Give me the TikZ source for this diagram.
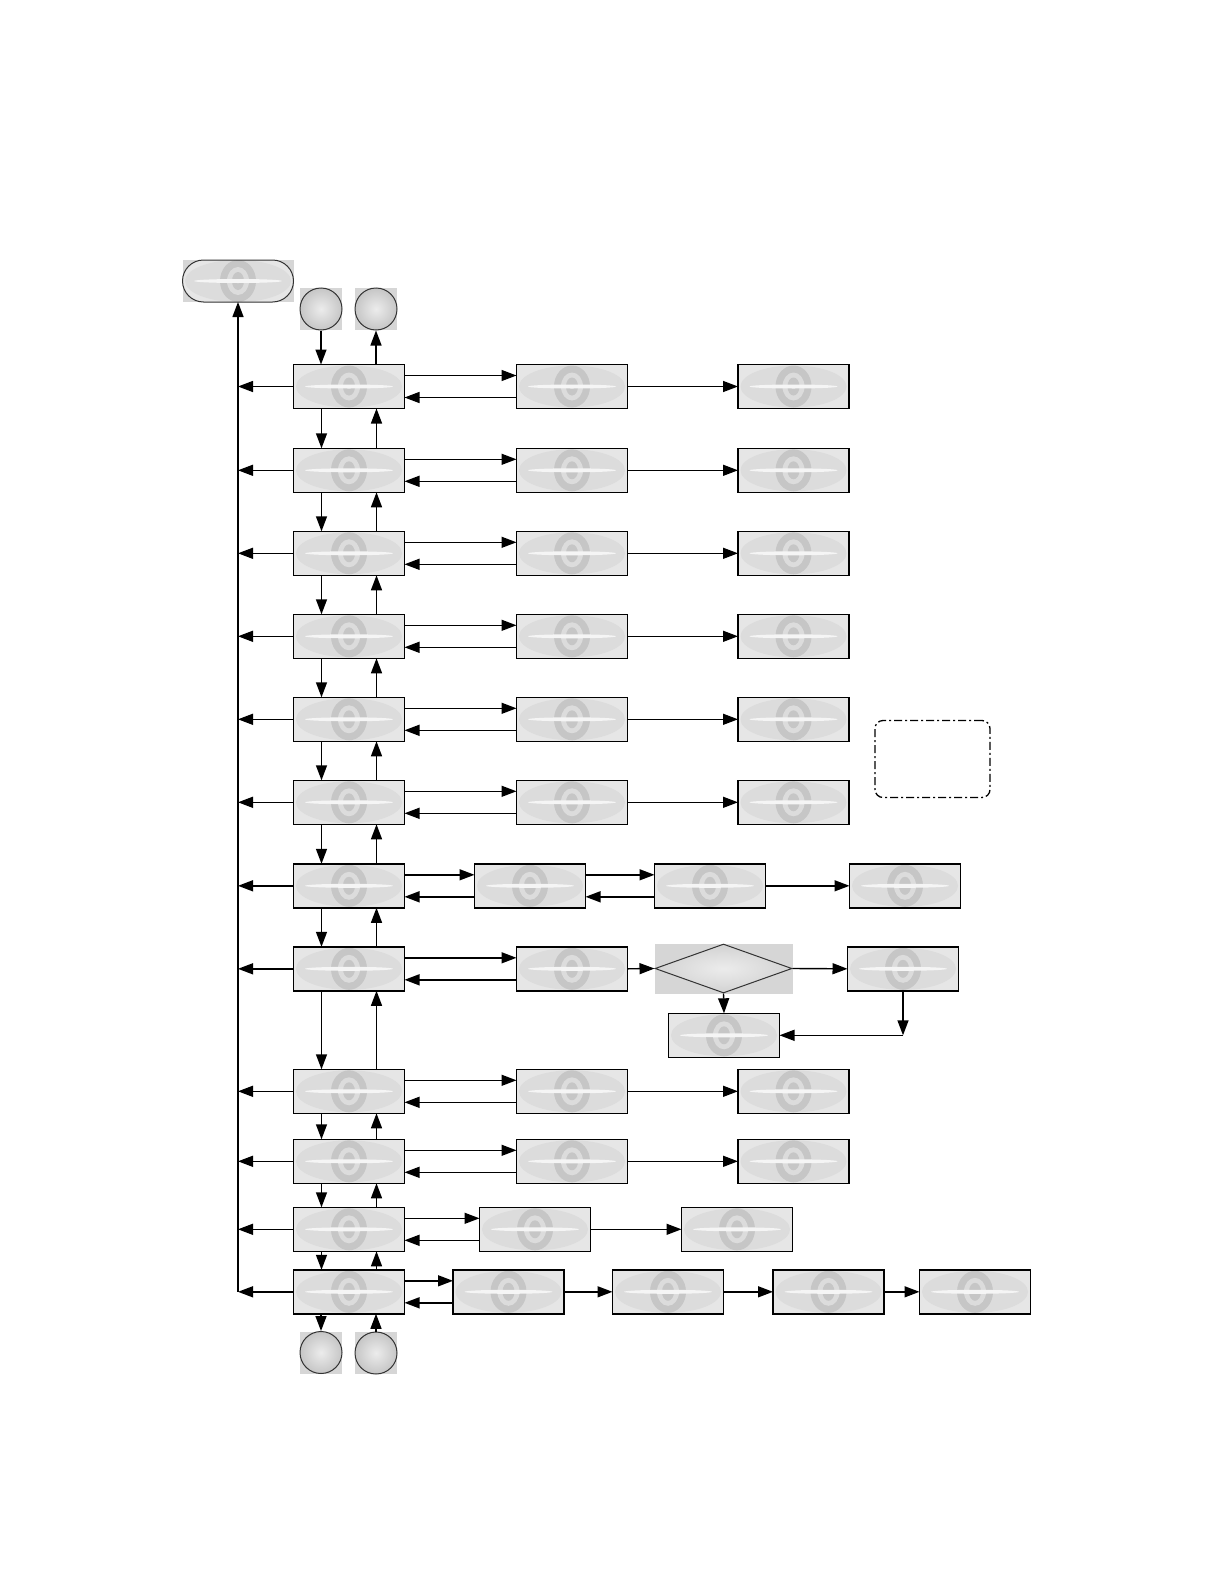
\documentclass[tikz,border=0pt]{standalone}
\usetikzlibrary{shapes.geometric,arrows.meta,backgrounds,calc}
\definecolor{boxbg}{HTML}{E6E6E6}
\definecolor{patt}{HTML}{DCDCDC}
\definecolor{pattd}{HTML}{C6C6C6}
\definecolor{sqbg}{HTML}{D6D6D6}
\begin{document}
\begin{tikzpicture}[x=0.5pt,y=-0.5pt,
  pat/.style={path picture={
      \fill[patt] (path picture bounding box.center) ellipse [x radius=26.5pt, y radius=10.5pt];
      \fill[pattd] (path picture bounding box.center) ellipse [x radius=9pt, y radius=10.5pt];
      \fill[patt] (path picture bounding box.center) ellipse [x radius=5.5pt, y radius=7pt];
      \fill[pattd] (path picture bounding box.center) ellipse [x radius=3pt, y radius=4.5pt];
      \fill[white!70!patt] (path picture bounding box.center) ellipse [x radius=22pt, y radius=1pt];}},
  box/.style={draw=black, line width=0.7pt, fill=boxbg, minimum width=55.5pt,
    minimum height=22pt, inner sep=0pt, outer sep=0pt, pat},
  term/.style={draw=black!80, line width=0.5pt, fill=boxbg, rounded corners=10.5pt,
    minimum width=55.5pt, minimum height=21pt, inner sep=0pt, outer sep=0pt, pat},
  circ/.style={circle, draw=black!80, line width=0.5pt, minimum size=21pt, inner sep=0pt,
    inner color=gray!15, outer color=gray!45},
  dia/.style={diamond, draw=black!80, line width=0.5pt, minimum width=68.5pt,
    minimum height=24.5pt, inner sep=0pt, inner color=gray!15, outer color=gray!35},
  notebox/.style={draw=black, line width=0.65pt, dash pattern=on 4pt off 1.5pt on 1pt off 1.5pt,
    rounded corners=4pt, minimum width=57.5pt, minimum height=38.5pt, inner sep=0pt},
  arr/.style={-{Triangle[length=7.5pt,width=5.5pt]}, line width=0.7pt}
]
\useasboundingbox (0,0) rectangle (1224,1584);

% helper x positions
\coordinate (vx) at (238,0);
\coordinate (dx) at (321.5,0);
\coordinate (ux) at (376.5,0);

% terminal and connectors
\node[term] (t) at (238,281) {};
\node[circ] (ci1) at (321,309) {};
\node[circ] (ci2) at (376,309) {};
\node[circ] (ci3) at (321,1352.5) {};
\node[circ] (ci4) at (376,1353) {};

% main column
\foreach \i/\y in {1/386.5,2/470.3,3/553.3,4/636.3,5/719.3,6/802.3,7/885.8,8/968.8,9/1091.3,10/1161.3,11/1229.3,12/1291.8}
  \node[box] (m\i) at (349,\y) {};

% second and third columns
\foreach \i/\y in {1/386.5,2/470.3,3/553.3,4/636.3,5/719.3,6/802.3,9/1091.3,10/1161.3}{
  \node[box] (b\i) at (572,\y) {};
  \node[box] (c\i) at (793.5,\y) {};
}
\node[box] (b7) at (530,885.8) {};
\node[box] (c7) at (710,885.8) {};
\node[box] (d7) at (905,885.8) {};

\node[box] (b8) at (572,968.8) {};
\node[dia] (dd) at (723.5,968.5) {};
\node[box] (r8) at (903,968.8) {};
\node[box] (l8) at (724,1035.3) {};
\coordinate (k8) at (903,1035.3);

\node[box] (b11) at (535,1229.3) {};
\node[box] (c11) at (737,1229.3) {};

\node[box] (b12) at (508.5,1291.8) {};
\node[box] (c12) at (668,1291.8) {};
\node[box] (d12) at (828.5,1291.8) {};
\node[box] (e12) at (975,1291.8) {};

\node[notebox] (note) at (932.5,759) {};

% backgrounds of the picture-like shapes
\begin{scope}[on background layer]
  \fill[sqbg] (t.north west) rectangle (t.south east);
  \foreach \c in {ci1,ci2,ci3,ci4}
    \fill[sqbg] ([xshift=-10.5pt,yshift=10.5pt]\c.center) rectangle ([xshift=10.5pt,yshift=-10.5pt]\c.center);
  \fill[sqbg] (dd.west |- dd.north) rectangle (dd.east |- dd.south);
\end{scope}

% left bus
\foreach \i in {1,...,12}
  \draw[arr] (m\i.west) -- (m\i.west -| vx);
\draw[arr] (m12.west -| vx) -- (t.south);

% vertical arrows of main column
\draw[arr] (ci1.south) -- (m1.north -| ci1);
\draw[arr] (m1.north -| ci2) -- (ci2.south);
\foreach \i/\j in {1/2,2/3,3/4,4/5,5/6,6/7,7/8,8/9,9/10,10/11,11/12}{
  \draw[arr] (m\i.south -| dx) -- (m\j.north -| dx);
  \draw[arr] (m\j.north -| ux) -- (m\i.south -| ux);
}
\draw[arr] (m12.south -| ci3) -- (ci3.north);
\draw[arr] (ci4.north) -- (m12.south -| ci4);

% double arrows main <-> second column
\foreach \i in {1,...,12}{
  \draw[arr] ([yshift=5.5pt]m\i.east) -- ([yshift=5.5pt]b\i.west);
  \draw[arr] ([yshift=-5.5pt]b\i.west) -- ([yshift=-5.5pt]m\i.east);
}
% single arrows second -> third
\foreach \i in {1,2,3,4,5,6,9,10,11}
  \draw[arr] (b\i.east) -- (c\i.west);

% row 7
\draw[arr] ([yshift=5.5pt]b7.east) -- ([yshift=5.5pt]c7.west);
\draw[arr] ([yshift=-5.5pt]c7.west) -- ([yshift=-5.5pt]b7.east);
\draw[arr] (c7.east) -- (d7.west);

% row 8
\draw[arr] (b8.east) -- (dd.west);
\draw[arr] (dd.east) -- (r8.west);
\draw[arr] (dd.south) -- (l8.north);
\draw[arr] (r8.south) -- (k8);
\draw[arr] (k8) -- (l8.east);

% row 12
\draw[arr] (b12.east) -- (c12.west);
\draw[arr] (c12.east) -- (d12.west);
\draw[arr] (d12.east) -- (e12.west);
\end{tikzpicture}
\end{document}
